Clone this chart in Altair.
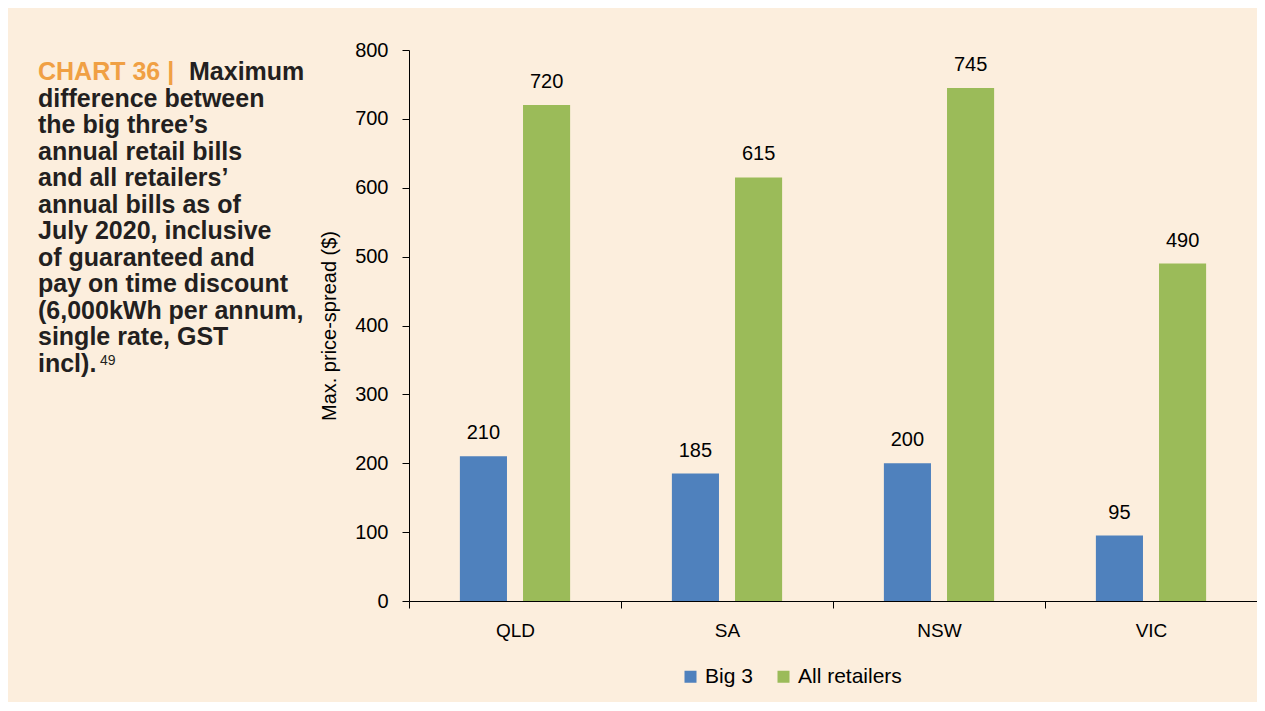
import altair as alt
import pandas as pd

states = ["QLD", "SA", "NSW", "VIC"]
series = ["Big 3", "All retailers"]
big3 = [210, 185, 200, 95]
all_retailers = [720, 615, 745, 490]
y_ticks = [0, 100, 200, 300, 400, 500, 600, 700, 800]

title_prefix = "CHART 36 |"
title_first = "Maximum"
title_lines = [
    "difference between",
    "the big three\u2019s",
    "annual retail bills",
    "and all retailers\u2019",
    "annual bills as of",
    "July 2020, inclusive",
    "of guaranteed and",
    "pay on time discount",
    "(6,000kWh per annum,",
    "single rate, GST",
    "incl).",
]
footnote = "49"

BLUE = "#4F81BD"
GREEN = "#9BBB59"
ORANGE = "#F0A044"
CREAM = "#FCEEDD"
FONT = "Liberation Sans"

rows = []
for s, b, a in zip(states, big3, all_retailers):
    rows.append({"state": s, "series": "Big 3", "value": b})
    rows.append({"state": s, "series": "All retailers", "value": a})
df = pd.DataFrame(rows)

W, H = 848, 551

base = alt.Chart(df).encode(
    x=alt.X(
        "state:N",
        sort=states,
        scale=alt.Scale(paddingInner=0, paddingOuter=0),
        axis=alt.Axis(
            title=None,
            labelAngle=0,
            labelFontSize=19,
            labelFont=FONT,
            labelColor="#000",
            labelPadding=13,
            tickBand="extent",
            tickSize=7,
            tickColor="#000",
            domainColor="#000",
        ),
    ),
    xOffset=alt.XOffset(
        "series:N",
        sort=series,
        scale=alt.Scale(domain=series, paddingInner=0.254, paddingOuter=0.806),
    ),
    y=alt.Y(
        "value:Q",
        scale=alt.Scale(domain=[0, 800], nice=False),
        axis=alt.Axis(
            title="Max. price-spread ($)",
            titleFontSize=20,
            titleFont=FONT,
            titleFontWeight="normal",
            titleColor="#000",
            titlePadding=15,
            values=y_ticks,
            grid=False,
            labelFontSize=20,
            labelFont=FONT,
            labelColor="#000",
            labelPadding=14,
            tickSize=7,
            tickColor="#000",
            domainColor="#000",
        ),
    ),
)

bars = base.mark_bar().encode(
    color=alt.Color(
        "series:N",
        sort=series,
        scale=alt.Scale(domain=series, range=[BLUE, GREEN]),
        legend=alt.Legend(
            title=None,
            orient="none",
            legendX=271,
            legendY=616,
            direction="horizontal",
            symbolType="square",
            symbolSize=144,
            symbolStrokeWidth=0,
            labelFontSize=21,
            labelFont=FONT,
            labelColor="#000",
            labelOffset=4,
            columnPadding=20,
            padding=0,
        ),
    )
)

labels = base.mark_text(
    dy=-17, baseline="alphabetic", fontSize=20, font=FONT, color="#000"
).encode(text="value:Q")

dummy = pd.DataFrame({"k": [0]})

TS = 25
LH = 26.5
Y0 = 30

t_orange = alt.Chart(dummy).mark_text(
    text=title_prefix, align="left", baseline="alphabetic",
    fontSize=TS, font=FONT, fontWeight="bold", color=ORANGE,
).encode(x=alt.value(-371), y=alt.value(Y0))

t_first = alt.Chart(dummy).mark_text(
    text=title_first, align="left", baseline="alphabetic",
    fontSize=TS, font=FONT, fontWeight="bold", color="#231F20",
).encode(x=alt.value(-220), y=alt.value(Y0))

t_rest = alt.Chart(dummy).mark_text(
    text=title_lines, align="left", baseline="alphabetic", lineHeight=LH,
    fontSize=TS, font=FONT, fontWeight="bold", color="#231F20",
).encode(x=alt.value(-371), y=alt.value(Y0 + LH))

t_note = alt.Chart(dummy).mark_text(
    text=footnote, align="left", baseline="alphabetic",
    fontSize=14, font=FONT, color="#231F20",
).encode(x=alt.value(-309), y=alt.value(315))

chart = (
    alt.layer(bars, labels, t_orange, t_first, t_rest, t_note)
    .properties(
        width=W,
        height=H,
        autosize=alt.AutoSizeParams(type="none"),
        padding={"left": 401, "top": 42, "right": 0, "bottom": 101},
        background=CREAM,
    )
    .configure_view(stroke=None)
)

chart.save("out.html", embed_options={"renderer": "svg", "actions": False})
